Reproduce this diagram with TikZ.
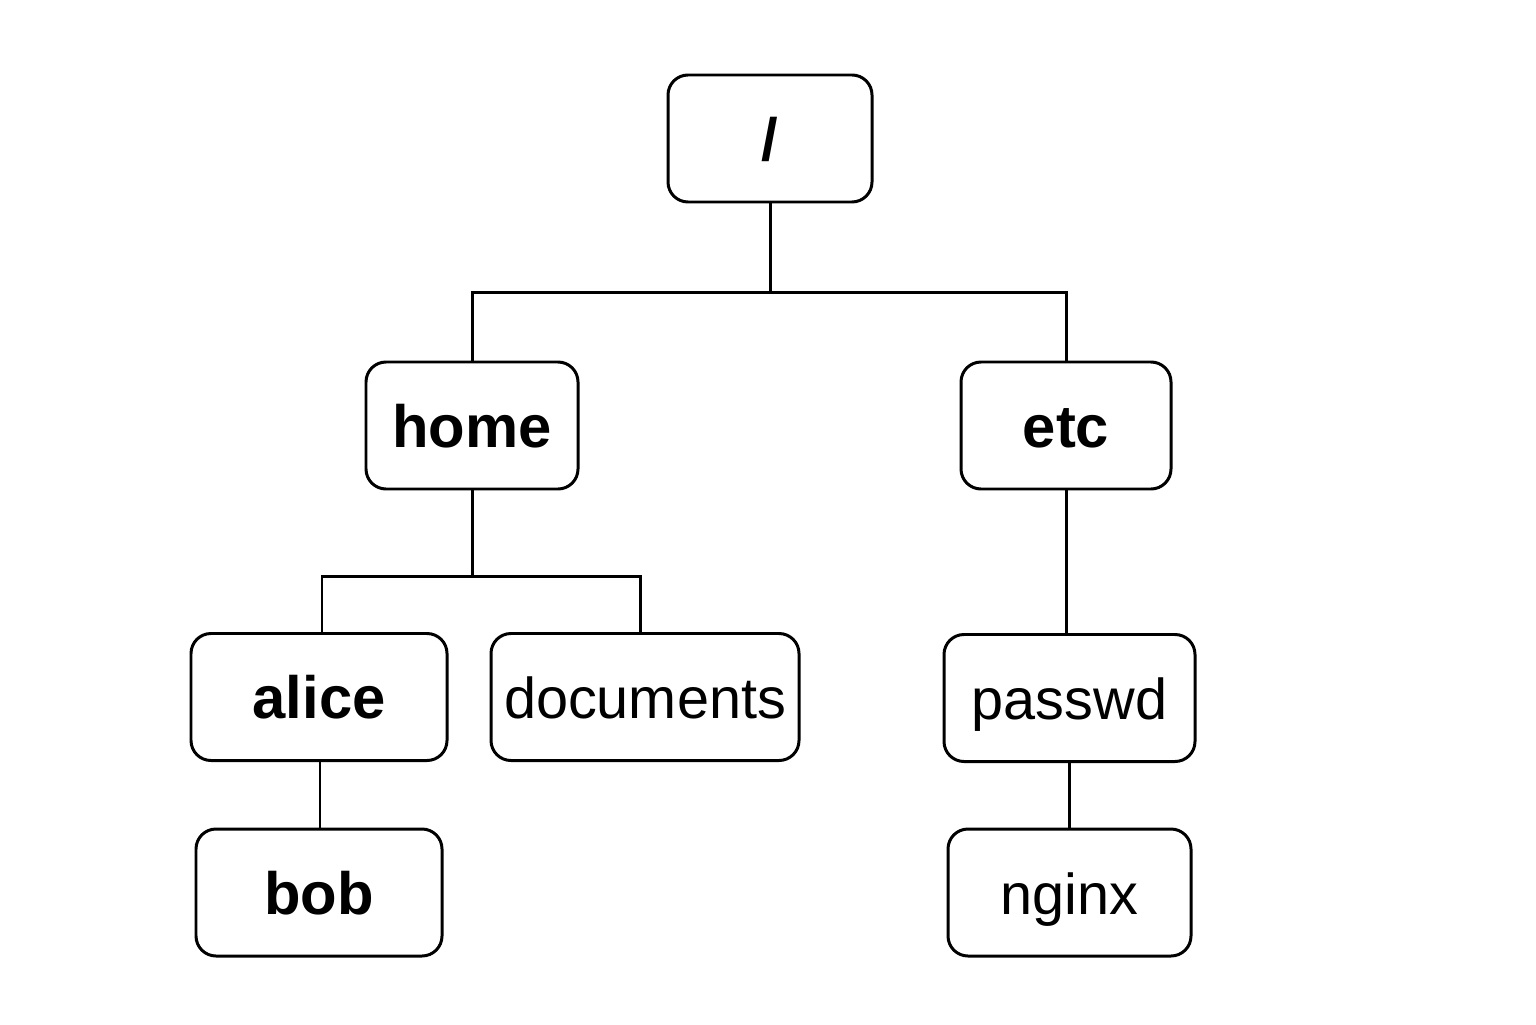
\documentclass[tikz,border=0pt]{standalone}
\usepackage{fontspec}
\setmainfont{Liberation Sans}

\tikzset{
  dirbox/.style={draw, line width=0.85pt, rounded corners=0.2cm, minimum height=1.27cm,
    inner sep=0pt, text height=12.5pt, text depth=0pt, font=\fontsize{16.4}{20}\selectfont},
  userdir/.style={dirbox, font=\fontsize{17}{20}\selectfont\bfseries},
  branch/.style={line width=0.85pt}
}

\begin{document}
\begin{tikzpicture}
    \useasboundingbox (0,0) rectangle (15.36,10.24);

    % Raiz
    \node[userdir, minimum width=2.04cm] (root) at (7.70,8.855) {/};

    % Primeiro nivel
    \node[userdir, minimum width=2.12cm] (home) at (4.72,5.985) {home};
    \node[userdir, minimum width=2.10cm] (etc) at (10.66,5.985) {etc};

    % Segundo nivel
    \node[userdir, minimum width=2.56cm] (alice) at (3.19,3.27) {alice};
    \node[dirbox, minimum width=3.08cm] (documents) at (6.45,3.27) {documents};
    \node[dirbox, minimum width=2.51cm] (passwd) at (10.695,3.26) {passwd};

    % Terceiro nivel
    \node[userdir, minimum width=2.46cm] (bob) at (3.19,1.315) {bob};
    \node[dirbox, minimum width=2.43cm] (nginx) at (10.695,1.315) {nginx};

    % Ligacoes
    \draw[branch] (root.south) -- ++(0,-0.89) -| (home.north);
    \draw[branch] (root.south) -- ++(0,-0.89) -| (etc.north);
    \draw[branch] (home.south) -- ++(0,-0.86) -| ([xshift=0.03cm]alice.north);
    \draw[branch] (home.south) -- ++(0,-0.86) -| ([xshift=-0.05cm]documents.north);
    \draw[branch] (etc.south) -- (etc.south |- passwd.north);
    \draw[branch] ([xshift=0.01cm]alice.south) -- ([xshift=0.01cm]bob.north);
    \draw[branch] (passwd.south) -- (nginx.north);
  \end{tikzpicture}
\end{document}
